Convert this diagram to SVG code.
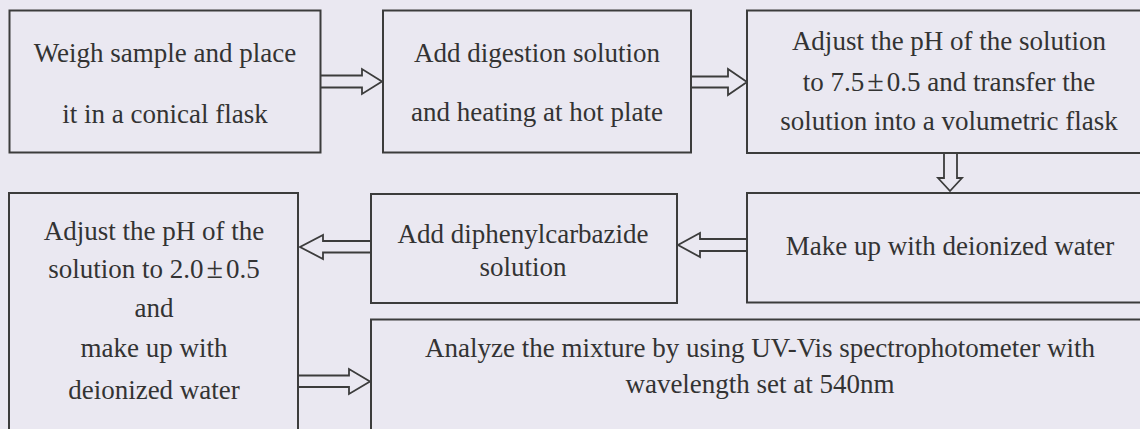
<svg xmlns="http://www.w3.org/2000/svg" width="1140" height="429" viewBox="0 0 1140 429">
<style>
.bg{fill:#eae8f1}
.box{fill:#eae8f1;stroke:#3c3c3c;stroke-width:2}
.t{font-family:"Liberation Serif","Times New Roman",serif;font-size:27px;fill:#333;text-anchor:middle}
.pm{font-size:30px}
.arr{fill:#eae8f1;stroke:#3c3c3c;stroke-width:1.8;stroke-linejoin:miter}
</style>
<rect class="bg" x="0" y="0" width="1140" height="429"/>
<g id="connectors">
<path class="arr" d="M321,75.5 H362 V69 L382,81.5 L362,94 V87.5 H321"/>
<path class="arr" d="M691,76.5 H728 V69 L747,82 L728,95 V87.5 H691"/>
<path class="arr" d="M944,153 V178 H938 L950,191 L962,178 H957 V153"/>
<path class="arr" d="M747,239 H700 V233 L678,245 L700,257 V251 H747"/>
<path class="arr" d="M371,241 H323 V235 L300,247 L323,259 V252.5 H371"/>
<path class="arr" d="M298,375.5 H349 V369 L370,381.5 L349,394 V387 H298"/>
</g>
<g id="n1"><rect class="box" x="9.5" y="10.5" width="311" height="142"/>
<text class="t" x="165" y="62">Weigh sample and place</text>
<text class="t" x="165" y="123">it in a conical flask</text></g>
<g id="n2"><rect class="box" x="383" y="10.5" width="308" height="142"/>
<text class="t" x="537" y="62">Add digestion solution</text>
<text class="t" x="537" y="121">and heating at hot plate</text></g>
<g id="n3"><rect class="box" x="747" y="10.5" width="420" height="142.5"/>
<text class="t" x="949" y="50">Adjust the pH of the solution</text>
<text class="t" x="949" y="91">to 7.5<tspan class="pm" dx="3">±</tspan><tspan dx="3">0.5 and transfer the</tspan></text>
<text class="t" x="949" y="130">solution into a volumetric flask</text></g>
<g id="n4"><rect class="box" x="747" y="193" width="420" height="109.5"/>
<text class="t" x="950" y="255">Make up with deionized water</text></g>
<g id="n5"><rect class="box" x="371" y="194" width="306" height="109"/>
<text class="t" x="523" y="243">Add diphenylcarbazide</text>
<text class="t" x="523" y="276">solution</text></g>
<g id="n6"><rect class="box" x="9" y="193" width="289" height="260"/>
<text class="t" x="154" y="240">Adjust the pH of the</text>
<text class="t" x="154" y="278">solution to 2.0<tspan class="pm" dx="3">±</tspan><tspan dx="3">0.5</tspan></text>
<text class="t" x="154" y="317">and</text>
<text class="t" x="154" y="357">make up with</text>
<text class="t" x="154" y="399">deionized water</text></g>
<g id="n7"><rect class="box" x="371" y="319.5" width="800" height="140"/>
<text class="t" x="760" y="357">Analyze the mixture by using UV-Vis spectrophotometer with</text>
<text class="t" x="760" y="393">wavelength set at 540nm</text></g>
</svg>
